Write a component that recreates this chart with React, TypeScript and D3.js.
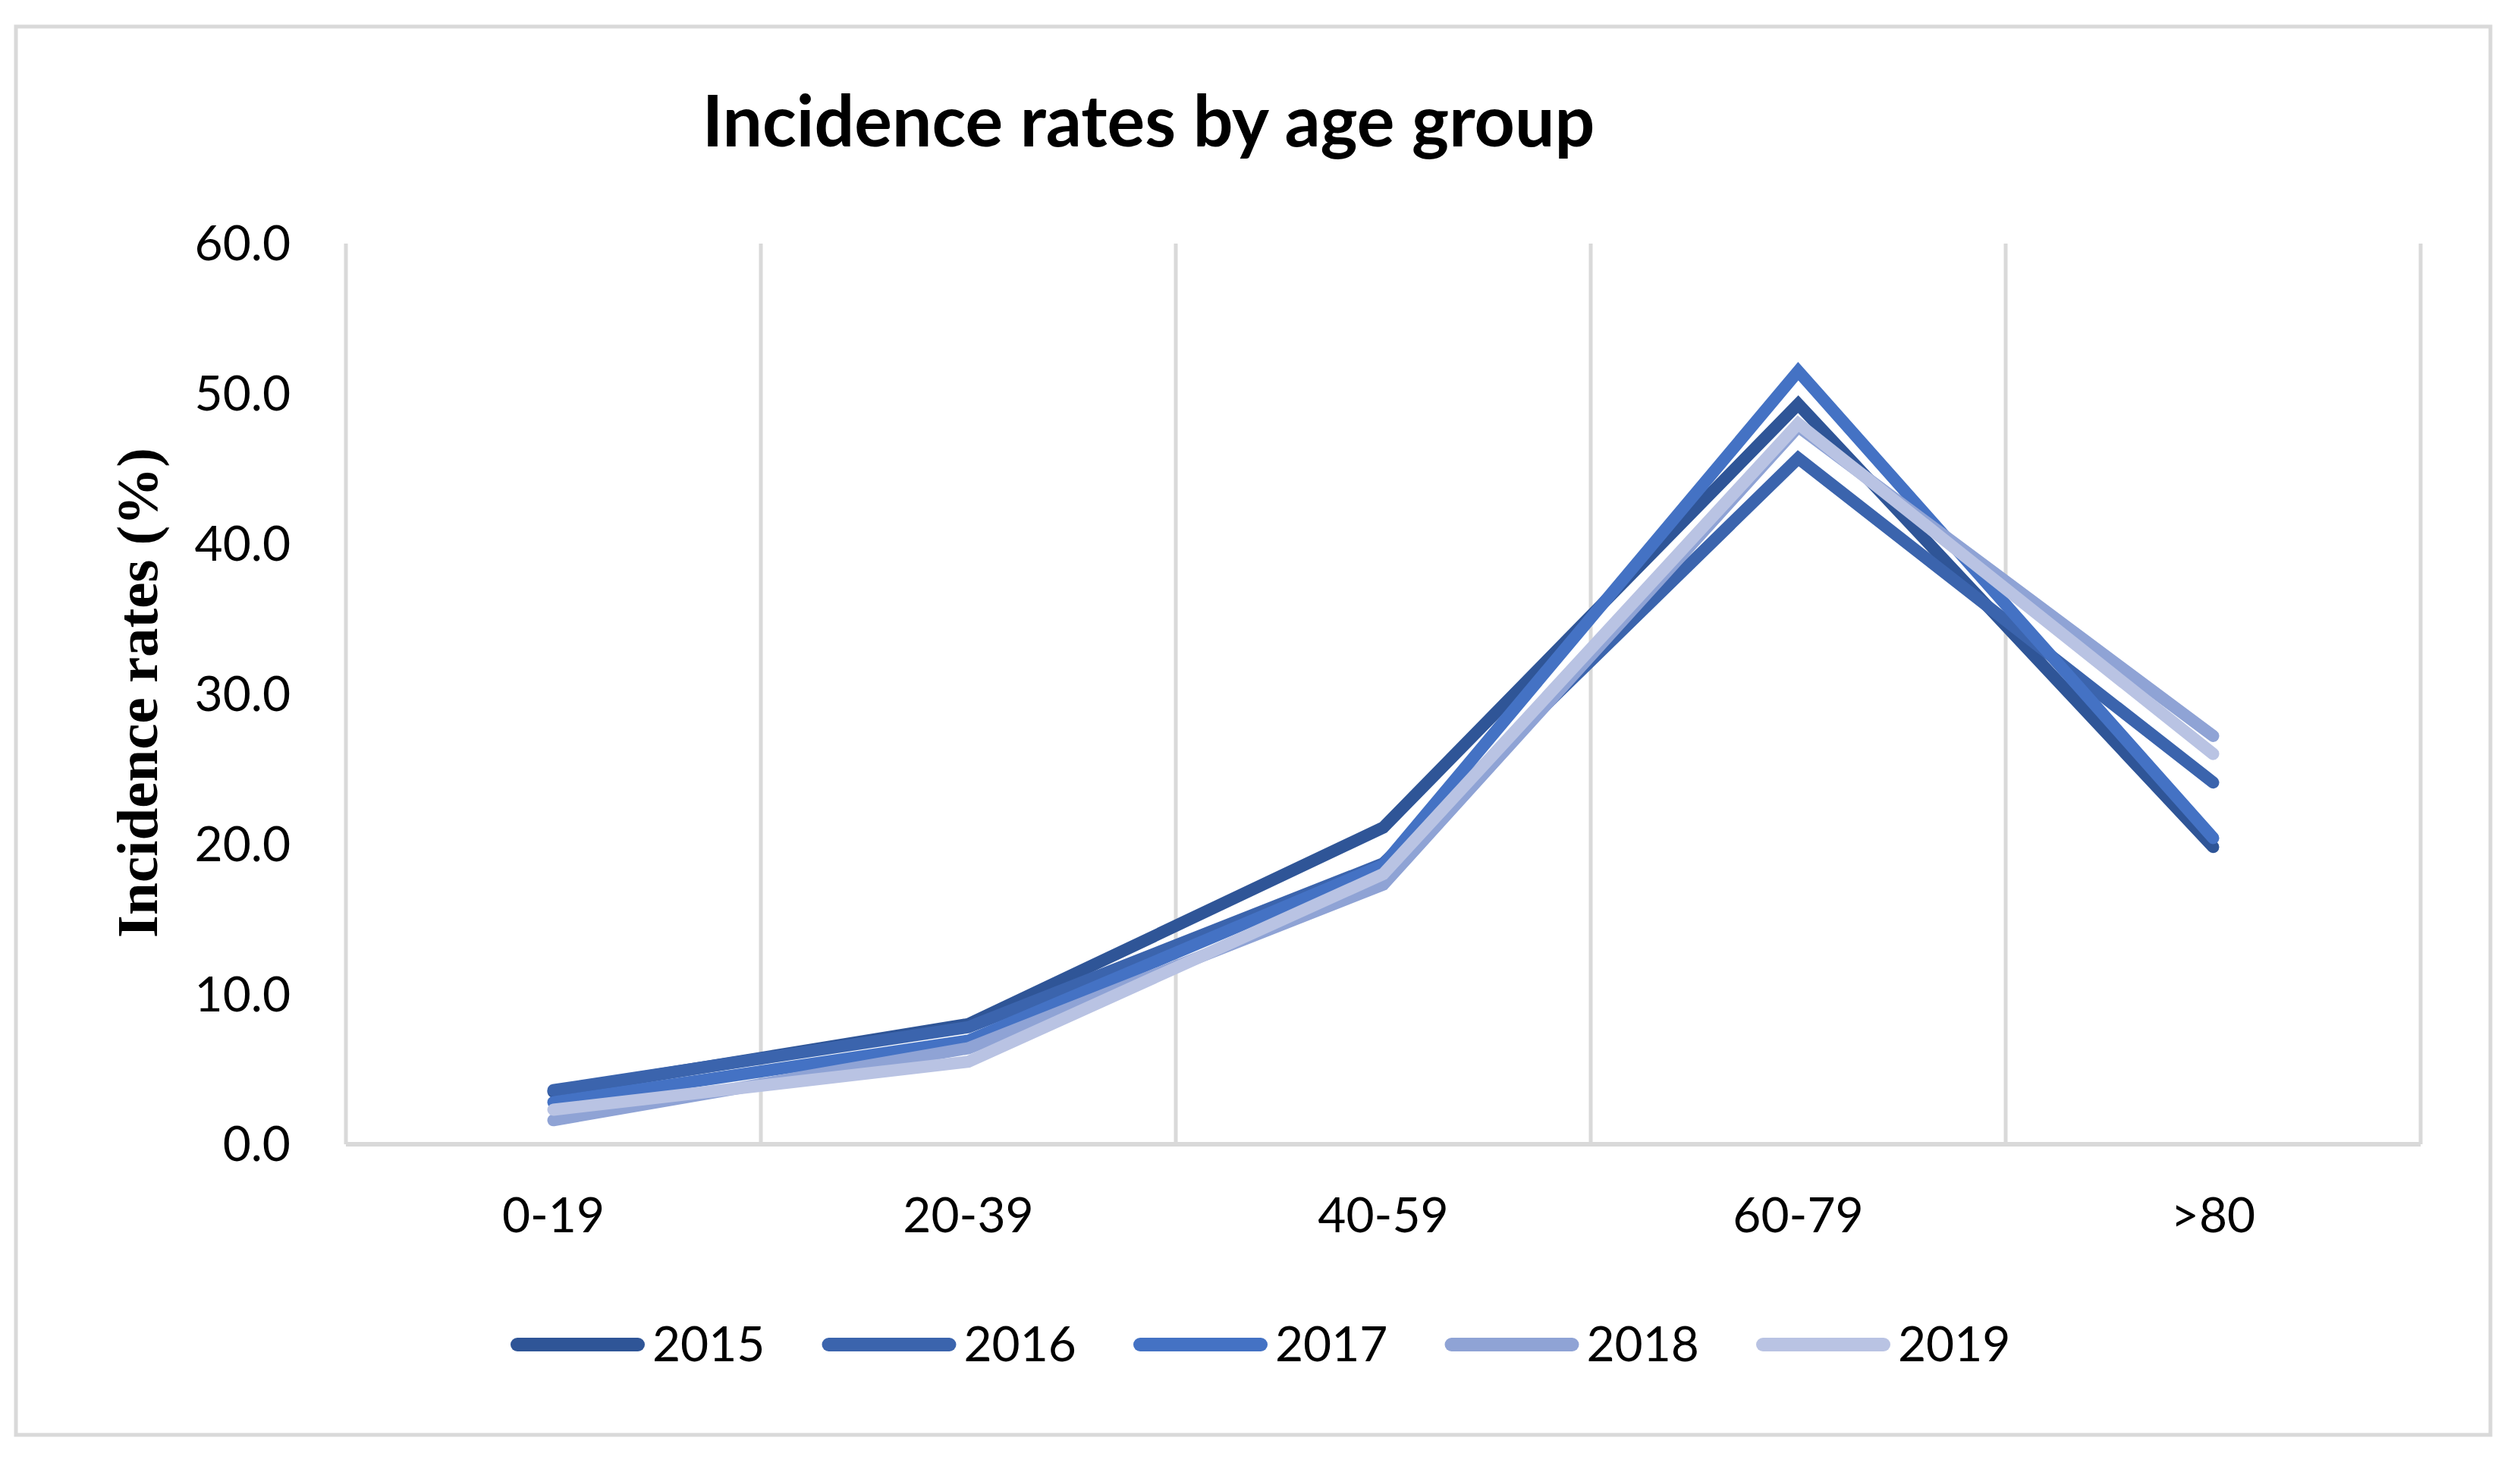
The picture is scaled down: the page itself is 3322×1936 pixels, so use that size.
import React from "react";
import * as d3 from "d3";

const categories = ["0-19", "20-39", "40-59", "60-79", ">80"];
const seriesNames = ["2015", "2016", "2017", "2018", "2019"];
const values2015 = [3.5, 8.0, 21.1, 49.3, 19.8];
const values2016 = [3.6, 7.8, 18.7, 45.7, 24.1];
const values2017 = [2.8, 6.9, 18.6, 51.5, 20.4];
const values2018 = [1.6, 6.4, 17.3, 47.8, 27.2];
const values2019 = [2.3, 5.5, 18.0, 48.0, 26.0];
const seriesColors = ["#2F5597", "#3B64AD", "#4472C4", "#8FA3D5", "#B9C3E3"];
const yTicks = [0, 10, 20, 30, 40, 50, 60];
const title = "Incidence rates by age group";
const yTitle = "Incidence rates (%)";

const W = 3322;
const H = 1936;

export default function App() {
  const allValues = [values2015, values2016, values2017, values2018, values2019];
  const x = d3.scaleBand<string>().domain(categories).range([456, 3191]).padding(0);
  const y = d3.scaleLinear().domain([0, 60]).range([1508, 321]);
  const bw = x.bandwidth();
  const line = d3
    .line<number>()
    .x((_, i) => (x(categories[i]) as number) + bw / 2)
    .y((d) => y(d));
  const fmt = d3.format(".1f");
  const gridXs = categories.map((c) => x(c) as number).concat([x.range()[1]]);
  const legendX0 = 673;
  const legendStep = 410.5;
  const sans = "Lato, 'Open Sans', sans-serif";

  return (
    <svg
      width={W}
      height={H}
      style={{ position: "absolute", left: 0, top: 0, background: "#fff" }}
    >
      <rect x={0} y={0} width={W} height={H} fill="#fff" />
      <rect x={21} y={35} width={3262} height={1856} fill="none" stroke="#D9D9D9" strokeWidth={5} />
      <text
        x={1514}
        y={193}
        textAnchor="middle"
        fontFamily={sans}
        fontWeight={700}
        fontSize={93}
        fill="#000"
      >
        {title}
      </text>
      {gridXs.map((gx, i) => (
        <line key={i} x1={gx} x2={gx} y1={y(60)} y2={y(0)} stroke="#D9D9D9" strokeWidth={5} />
      ))}
      <line x1={x.range()[0]} x2={x.range()[1]} y1={y(0)} y2={y(0)} stroke="#D9D9D9" strokeWidth={6} />
      {yTicks.map((t) => (
        <text
          key={t}
          x={383}
          y={y(t)}
          dy="0.35em"
          textAnchor="end"
          fontFamily={sans}
          fontSize={64}
          fill="#000"
        >
          {fmt(t)}
        </text>
      ))}
      {categories.map((c) => (
        <text
          key={c}
          x={(x(c) as number) + bw / 2}
          y={1624}
          textAnchor="middle"
          fontFamily={sans}
          fontSize={64}
          fill="#000"
        >
          {c}
        </text>
      ))}
      <text
        transform={`translate(207, 913) rotate(-90)`}
        textAnchor="middle"
        fontFamily="'Liberation Serif', 'Times New Roman', serif"
        fontWeight={700}
        fontSize={77}
        fill="#000"
      >
        {yTitle}
      </text>
      {allValues.map((vals, i) => (
        <path
          key={seriesNames[i]}
          d={line(vals) as string}
          fill="none"
          stroke={seriesColors[i]}
          strokeWidth={16}
          strokeLinecap="round"
          strokeLinejoin="miter"
        />
      ))}
      {seriesNames.map((name, i) => {
        const lx = legendX0 + i * legendStep;
        return (
          <g key={name}>
            <line
              x1={lx + 9}
              x2={lx + 168}
              y1={1772}
              y2={1772}
              stroke={seriesColors[i]}
              strokeWidth={18}
              strokeLinecap="round"
            />
            <text x={lx + 187} y={1794} fontFamily={sans} fontSize={64} fill="#000">
              {name}
            </text>
          </g>
        );
      })}
    </svg>
  );
}
